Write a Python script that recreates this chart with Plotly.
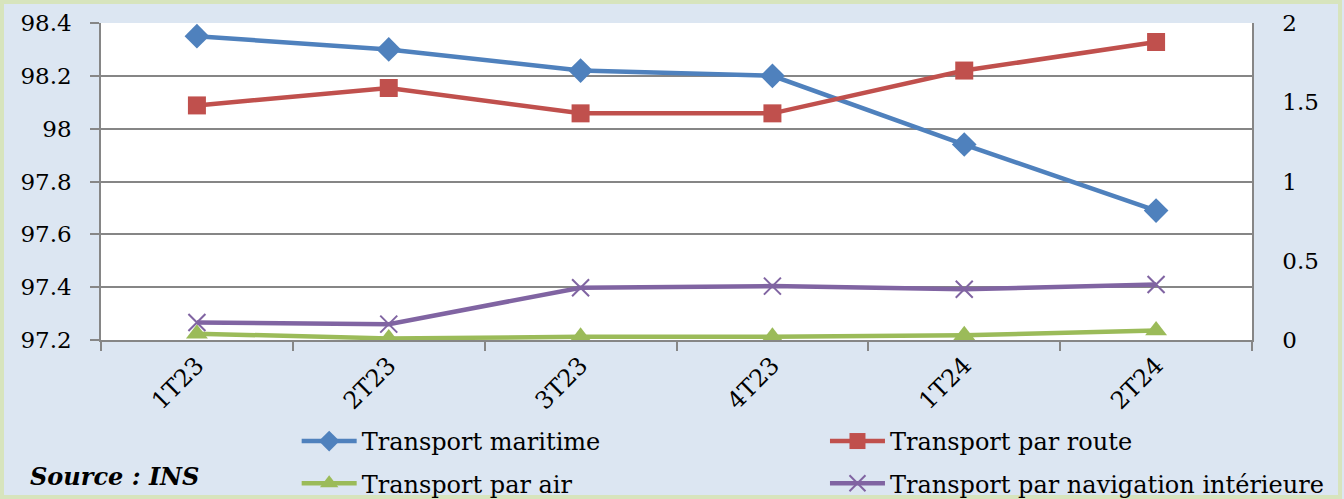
import plotly.graph_objects as go

categories = ["1T23", "2T23", "3T23", "4T23", "1T24", "2T24"]
maritime = [98.35, 98.30, 98.22, 98.20, 97.94, 97.69]
route = [1.48, 1.59, 1.43, 1.43, 1.70, 1.88]
air = [0.04, 0.01, 0.02, 0.02, 0.03, 0.06]
navigation = [0.11, 0.10, 0.33, 0.34, 0.32, 0.35]

left_ticks = [97.2, 97.4, 97.6, 97.8, 98.0, 98.2, 98.4]
left_labels = ["97.2", "97.4", "97.6", "97.8", "98", "98.2", "98.4"]
right_ticks = [0, 0.5, 1, 1.5, 2]
right_labels = ["0", "0.5", "1", "1.5", "2"]

FONT = "DejaVu Serif"
GRAY = "#868686"

fig = go.Figure()
fig.add_trace(go.Scatter(
    x=categories, y=maritime, name="Transport maritime", mode="lines+markers",
    line=dict(color="#4F81BD", width=4.5),
    marker=dict(symbol="diamond", size=19, color="#4F81BD"), yaxis="y",
    legend="legend", legendgroup="g1"))
fig.add_trace(go.Scatter(
    x=categories, y=route, name="Transport par route", mode="lines+markers",
    line=dict(color="#C0504D", width=4.5),
    marker=dict(symbol="square", size=18, color="#C0504D"), yaxis="y2",
    legend="legend2", legendgroup="g2"))
fig.add_trace(go.Scatter(
    x=categories, y=air, name="Transport par air", mode="lines+markers",
    line=dict(color="#9BBB59", width=4.5),
    marker=dict(symbol="triangle-up", size=19, color="#9BBB59"), yaxis="y2",
    legend="legend", legendgroup="g3"))
fig.add_trace(go.Scatter(
    x=categories, y=navigation, name="Transport par navigation intérieure", mode="lines+markers",
    line=dict(color="#8064A2", width=4.5),
    marker=dict(symbol="x-thin", size=17, color="#8064A2",
                line=dict(color="#8064A2", width=2)), yaxis="y2",
    legend="legend2", legendgroup="g4"))

legend_common = dict(
    orientation="v", xanchor="left", y=-0.249, yanchor="top",
    itemwidth=55, font=dict(family=FONT, size=24), bgcolor="rgba(0,0,0,0)",
    traceorder="grouped", tracegroupgap=8,
)

fig.update_layout(
    width=1344, height=499,
    margin=dict(l=101, r=92, t=23, b=159, autoexpand=False),
    paper_bgcolor="#DCE6F2", plot_bgcolor="#FFFFFF",
    font=dict(family=FONT, color="#000000", size=23),
    xaxis=dict(
        type="category", range=[-0.5, 5.5], tickangle=-45,
        showline=True, linecolor=GRAY, linewidth=1.5,
        ticks="outside", tickson="boundaries", ticklen=9, tickcolor=GRAY, tickwidth=1.5,
        showgrid=False, tickfont=dict(family=FONT, size=24),
    ),
    yaxis=dict(
        range=[97.2, 98.4], tickvals=left_ticks, ticktext=left_labels,
        showline=True, linecolor=GRAY, linewidth=1.5,
        ticks="outside", ticklen=9, tickcolor=GRAY, tickwidth=1.5,
        showgrid=True, gridcolor=GRAY, gridwidth=1.5, zeroline=False,
        tickfont=dict(family=FONT, size=23), ticklabelstandoff=14,
    ),
    yaxis2=dict(
        range=[0, 2], tickvals=right_ticks, ticktext=right_labels,
        overlaying="y", side="right",
        showline=True, linecolor=GRAY, linewidth=1.5,
        ticks="outside", ticklen=24, tickcolor="rgba(0,0,0,0)", tickwidth=1.5,
        showgrid=False, zeroline=False,
        tickfont=dict(family=FONT, size=23),
    ),
    yaxis3=dict(
        range=[0, 2], tickvals=right_ticks, overlaying="y", side="right",
        showline=False, showticklabels=False,
        ticks="outside", ticklen=9, tickcolor=GRAY, tickwidth=1.5,
        showgrid=False, zeroline=False,
    ),
    legend=dict(x=0.170, **legend_common),
    legend2=dict(x=0.629, **legend_common),
    showlegend=True,
)

fig.add_annotation(
    text="<b><i>Source : INS</i></b>", xref="paper", yref="paper",
    x=-0.063, xanchor="left", y=-0.43, yanchor="middle", showarrow=False,
    font=dict(family=FONT, size=24, color="#000000"),
)

fig.add_shape(
    type="rect", xref="paper", yref="paper",
    x0=-101/1151 + 2/1151, x1=1 + 88/1151,
    y0=-159/317 + 2/317, y1=1 + 21/317,
    line=dict(color="#D7E4BD", width=4), fillcolor="rgba(0,0,0,0)", layer="below",
)

fig.write_html(
    "out.html",
    config={"displayModeBar": False},
    post_script="document.body.style.margin='0';document.body.style.overflow='hidden';",
)
